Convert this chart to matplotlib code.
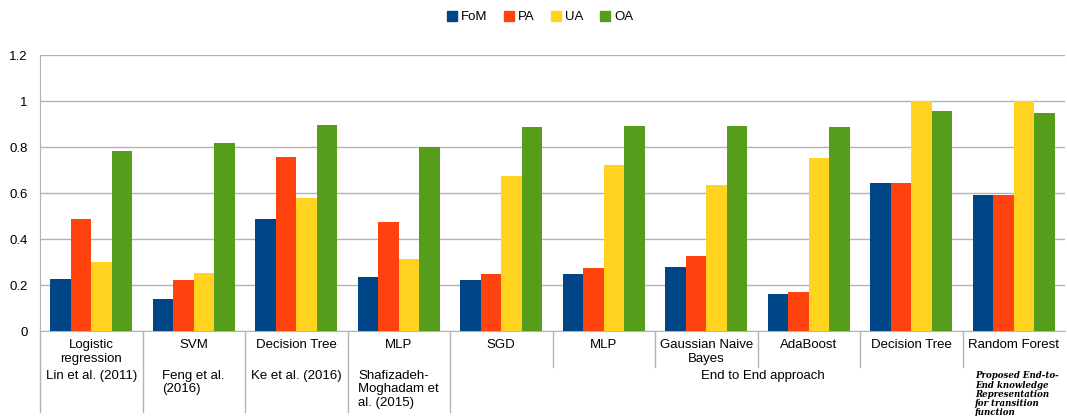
import numpy as np
import matplotlib
matplotlib.use('Agg')
from matplotlib import pyplot as plt
from matplotlib.patches import Patch

plt.rcParams['font.family'] = ['Liberation Sans', 'DejaVu Sans']

# data
methods = ['Logistic\nregression', 'SVM', 'Decision Tree', 'MLP', 'SGD', 'MLP',
           'Gaussian Naive\nBayes', 'AdaBoost', 'Decision Tree', 'Random Forest']
citations = ['Lin et al. (2011)', 'Feng et al.\n(2016)', 'Ke et al. (2016)',
             'Shafizadeh-\nMoghadam et\nal. (2015)']
group_label = 'End to End approach'
proposed_label = 'Proposed End-to-\nEnd knowledge\nRepresentation\nfor transition\nfunction'

series_names = ['FoM', 'PA', 'UA', 'OA']
fom = [0.228, 0.138, 0.486, 0.234, 0.221, 0.247, 0.277, 0.160, 0.643, 0.591]
pa = [0.486, 0.222, 0.756, 0.476, 0.247, 0.273, 0.327, 0.168, 0.643, 0.591]
ua = [0.299, 0.254, 0.578, 0.315, 0.672, 0.720, 0.636, 0.753, 1.0, 1.0]
oa = [0.784, 0.817, 0.897, 0.800, 0.887, 0.893, 0.891, 0.887, 0.955, 0.948]
colors = ['#004586', '#ff420e', '#ffd320', '#579d1c']

W, H = 1067, 416
fig = plt.figure(figsize=(W / 100, H / 100), dpi=100)
ax = fig.add_axes([40 / W, (H - 331) / H, 1025 / W, 276 / H])

x = np.arange(len(methods))
bw = 0.2
for i, (vals, c) in enumerate(zip([fom, pa, ua, oa], colors)):
    ax.bar(x + 0.1 + i * bw, vals, bw, align='edge', color=c, zorder=3)

ax.set_xlim(0, len(methods))
ax.set_ylim(0, 1.2)
yt = np.arange(0, 1.21, 0.2)
ax.set_yticks(yt)
ax.set_yticklabels(['0', '0.2', '0.4', '0.6', '0.8', '1', '1.2'], fontsize=9.5)
ax.tick_params(axis='y', length=0, pad=9)
ax.set_xticks([])
ax.yaxis.grid(True, color='#b3b3b3', linewidth=1, zorder=0)
for s in ['top', 'right']:
    ax.spines[s].set_visible(False)
for s in ['left', 'bottom']:
    ax.spines[s].set_color('#b3b3b3')

# category dividers under the axis
tr = ax.get_xaxis_transform()
for k in range(len(methods)):
    low = -0.293 if k <= 4 else -0.130
    ax.plot([k, k], [0, low], transform=tr, color='#b3b3b3', lw=1, clip_on=False)

# method names
for k, m in enumerate(methods):
    ax.text(k + 0.5, -0.030, m, transform=tr, ha='center', va='top', fontsize=9.5,
            linespacing=1.2)

# citations for the earlier works
for k, c in enumerate(citations):
    ax.text(k + 0.5, -0.140, c, transform=tr, ha='center', va='top', fontsize=9.5,
            linespacing=1.2, multialignment='left')

ax.text(7.05, -0.143, group_label, transform=tr, ha='center', va='top', fontsize=9.5)
ax.text(9.12, -0.146, proposed_label, transform=tr, ha='left', va='top', fontsize=6.2,
        family='DejaVu Serif', style='italic', weight='bold', linespacing=1.03)

handles = [Patch(facecolor=c, edgecolor=c) for c in colors]
fig.legend(handles, series_names, loc='center', bbox_to_anchor=(540 / W, 1 - 17 / H),
           ncol=4, frameon=False, fontsize=9.5, handlelength=0.8, handleheight=0.8,
           handletextpad=0.3, columnspacing=1.2)

fig.savefig('out.png', dpi=100)
